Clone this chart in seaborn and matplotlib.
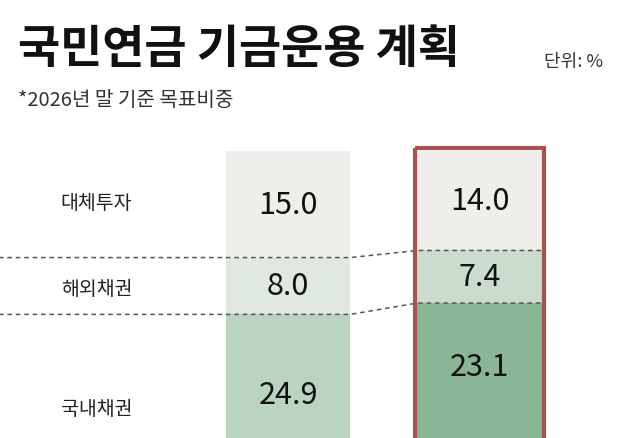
import numpy as np
import matplotlib
matplotlib.use("Agg")
import matplotlib.pyplot as plt
from matplotlib.patches import Rectangle
import seaborn as sns

# data
plans = ["current", "2026"]
categories = ["대체투자", "해외채권", "국내채권"]
alt_invest = [15.0, 14.0]
foreign_bond = [8.0, 7.4]
domestic_bond = [24.9, 23.1]

colors_left = ["#efeeea", "#dfe9e1", "#bad4c1"]
colors_right = ["#efeeea", "#c9dccd", "#8ab596"]

sns.set_theme(style="white")
plt.rcParams["font.family"] = ["Noto Sans CJK KR", "DejaVu Sans"]

fig = plt.figure(figsize=(6.28, 4.39), dpi=100)
ax = fig.add_axes([0, 0, 1, 1])

layers = [alt_invest, foreign_bond, domestic_bond]
cums = np.cumsum(np.array(layers), axis=0)
# draw largest cumulative first so smaller ones sit on top (bars hang from the top)
for i in range(len(layers) - 1, -1, -1):
    sns.barplot(x=plans, y=cums[i], hue=plans, palette=[colors_left[i], colors_right[i]],
                legend=False, width=0.65, ax=ax, saturation=1, linewidth=0)

ax.set_xlim(-1.504, 1.775)
ax.set_ylim(40.4, -21.4)
ax.axis("off")

# value labels
bottom_offset = [11.3, 8.9]
for j in range(2):
    starts = np.concatenate([[0], cums[:-1, j]])
    for i in range(3):
        mid = starts[i] + layers[i][j] / 2
        if i == 2:
            mid = starts[i] + bottom_offset[j]
        ax.text(j, mid, f"{layers[i][j]:.1f}", ha="center", va="center", fontsize=22,
                color="#111111", fontstretch="condensed")

# category labels
label_y = [7.2, 19.3, 36.3]
for name, y in zip(categories, label_y):
    ax.text(-1.0, y, name, ha="center", va="center", fontsize=14, color="#222222")

# dashed connectors
hw = 0.325
for i in range(2):
    yl, yr = cums[i, 0], cums[i, 1]
    ax.plot([-1.6, hw, 1 - hw, 1 + hw], [yl, yl, yr, yr], ls=(0, (3, 2.5)), color="#555555", lw=1.1, zorder=5)

# red border around the 2026 bar
ax.add_patch(Rectangle((1 - hw - 0.01, -0.4), 2 * hw + 0.02, 60, fill=False,
                       edgecolor="#a85252", lw=3, zorder=6, clip_on=True))

fig.text(18 / 628, 1 - 50 / 439, "국민연금 기금운용 계획", fontsize=33, fontweight="bold",
         va="center", ha="left", color="#111111")
fig.text(18 / 628, 1 - 100 / 439, "*2026년 말 기준 목표비중", fontsize=14.5, va="center", ha="left", color="#333333")
fig.text(603 / 628, 1 - 62 / 439, "단위: %", fontsize=13, va="center", ha="right", color="#333333")

fig.savefig("out.png", dpi=100)
